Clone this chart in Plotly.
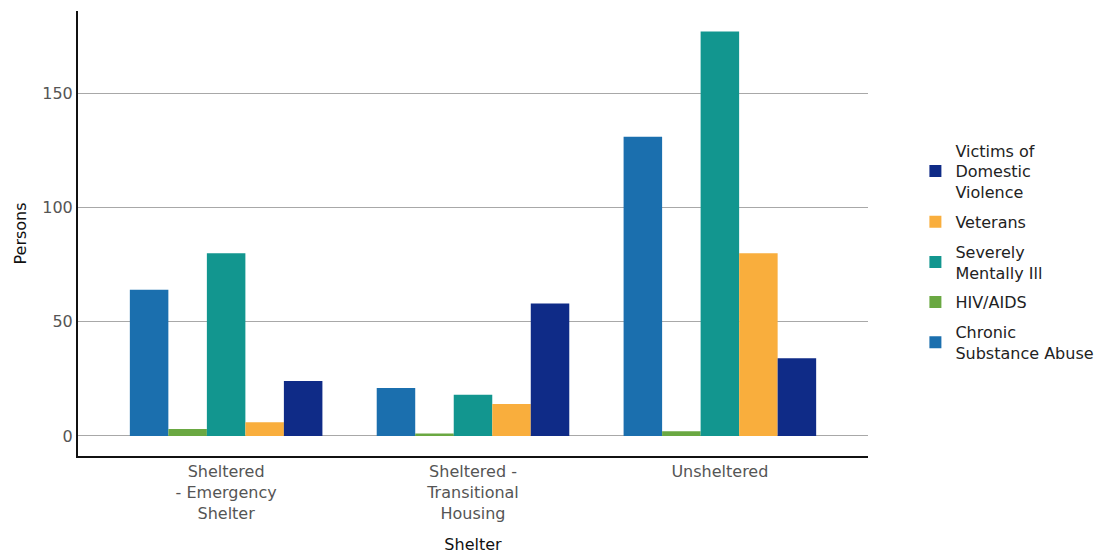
import plotly.graph_objects as go

categories = ["Sheltered<br>- Emergency<br>Shelter", "Sheltered -<br>Transitional<br>Housing", "Unsheltered"]
series_names = ["Chronic<br>Substance Abuse", "HIV/AIDS", "Severely<br>Mentally Ill", "Veterans", "Victims of<br>Domestic<br>Violence"]
chronic_substance_abuse = [64, 21, 131]
hiv_aids = [3, 1, 2]
severely_mentally_ill = [80, 18, 177]
veterans = [6, 14, 80]
victims_domestic_violence = [24, 58, 34]
colors = ["#1b6fae", "#6aa842", "#12968f", "#f9ae3d", "#0f2b87"]
y_ticks = [0, 50, 100, 150]

values = [chronic_substance_abuse, hiv_aids, severely_mentally_ill, veterans, victims_domestic_violence]

fig = go.Figure()
n = len(series_names)
for i, (name, vals, col) in enumerate(zip(series_names, values, colors)):
    fig.add_trace(go.Bar(x=categories, y=vals, name=name, legendgroup="g%d" % i,
                         legendrank=n - i,
                         marker=dict(color=col, line=dict(width=0))))

font_family = "DejaVu Sans"
fig.update_layout(
    barmode="group",
    bargap=0.22,
    bargroupgap=0,
    width=1103, height=546,
    margin=dict(l=70, r=243, t=3, b=98),
    paper_bgcolor="white", plot_bgcolor="white",
    font=dict(family=font_family, size=16, color="#555555"),
    legend=dict(traceorder="grouped", x=1.06, y=0.725, xanchor="left", yanchor="top",
                font=dict(size=16, color="#222222"), tracegroupgap=6, itemwidth=30),
    showlegend=True,
)
fig.update_xaxes(
    range=[-0.6, 2.6], showline=True, linecolor="#111111", linewidth=2, showgrid=False,
    ticks="", tickfont=dict(size=16, color="#555555"),
    title=dict(text="Shelter", font=dict(size=16, color="#111111"), standoff=17),
)
fig.update_yaxes(
    range=[-8.8, 186], tickvals=y_ticks, showline=True, linecolor="#111111", linewidth=2,
    showgrid=True, gridcolor="#a8a8a8", gridwidth=1, zeroline=False, ticks="",
    tickfont=dict(size=16, color="#555555"),
    title=dict(text="Persons", font=dict(size=16, color="#111111"), standoff=12),
)
fig.write_html("out.html")
